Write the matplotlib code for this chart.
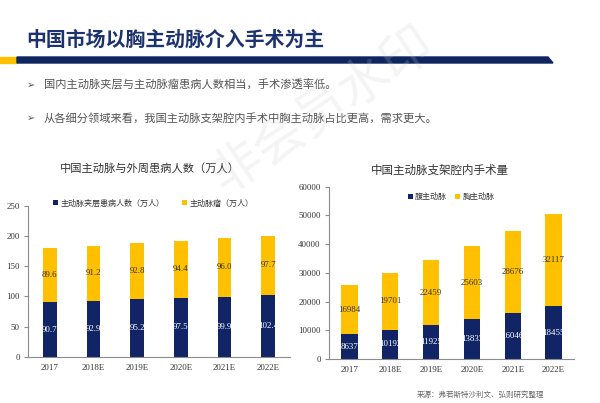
import matplotlib.pyplot as plt
import numpy as np
from matplotlib.patches import Rectangle, Polygon

plt.rcParams['font.family'] = ['Noto Sans CJK SC', 'DejaVu Sans']

# data
years = ['2017', '2018E', '2019E', '2020E', '2021E', '2022E']
dissection = [90.7, 92.9, 95.2, 97.5, 99.9, 102.4]   # 主动脉夹层患病人数（万人）
aneurysm = [89.6, 91.2, 92.8, 94.4, 96.0, 97.7]      # 主动脉瘤（万人）
abdominal = [8637, 10192, 11925, 13833, 16046, 18455]  # 腹主动脉
thoracic = [16984, 19701, 22459, 25603, 28676, 32117]  # 胸主动脉

navy = '#112566'
yellow = '#FFC000'
num_font = 'Liberation Serif'

fig = plt.figure(figsize=(6, 4.03), dpi=100)
W, H = 600, 403


def fx(px):
    return px / W


def fy(py):
    return (H - py) / H


# header
fig.text(fx(26), fy(39.5), '中国市场以胸主动脉介入手术为主', fontsize=14.3,
         fontweight='bold', color='#1c3370', va='center', ha='left')
fig.patches.append(Rectangle((0, fy(63)), fx(17), fy(57) - fy(63),
                             transform=fig.transFigure, color=yellow))
fig.patches.append(Polygon([(fx(17), fy(57)), (fx(548), fy(57)),
                            (fx(553), fy(63)), (fx(17), fy(63))],
                           closed=True, transform=fig.transFigure, color='#0e2660'))

bullets = ['国内主动脉夹层与主动脉瘤患病人数相当，手术渗透率低。',
           '从各细分领域来看，我国主动脉支架腔内手术中胸主动脉占比更高，需求更大。']
for i, b in enumerate(bullets):
    y = [84.5, 118][i]
    fig.text(fx(27), fy(y), '➢', fontsize=7, color='#555555', va='center',
             family='DejaVu Sans')
    fig.text(fx(44), fy(y), b, fontsize=8.1, color='#555555', va='center')

# watermark
fig.text(fx(322), fy(110), '非会员水印', fontsize=37, color='#c8c8c8', alpha=0.2,
         rotation=34, ha='center', va='center', zorder=10)


def style_axes(ax, ymax, step):
    ax.set_xlim(-0.5, 5.5)
    ax.set_ylim(0, ymax)
    ax.set_yticks(np.arange(0, ymax + 1, step))
    for s in ['top', 'right']:
        ax.spines[s].set_visible(False)
    for s in ['left', 'bottom']:
        ax.spines[s].set_color('#8c8c8c')
        ax.spines[s].set_linewidth(0.8)
    ax.tick_params(axis='y', length=3, color='#8c8c8c', labelsize=6.4, pad=3)
    ax.tick_params(axis='x', length=0, labelsize=6.4, pad=5)
    for lab in ax.get_xticklabels() + ax.get_yticklabels():
        lab.set_family(num_font)
        lab.set_color('#333333')
    ax.set_facecolor('none')


x = np.arange(len(years))

# left chart
ax1 = fig.add_axes([fx(28), fy(357), fx(290) - fx(28), fy(205.7) - fy(357)])
b1 = ax1.bar(x, dissection, width=0.32, color=navy, label='主动脉夹层患病人数（万人）')
b2 = ax1.bar(x, aneurysm, width=0.32, bottom=dissection, color=yellow, label='主动脉瘤（万人）')
ax1.set_xticks(x, years)
style_axes(ax1, 250, 50)
for i in range(len(years)):
    ax1.text(x[i], dissection[i] / 2, f'{dissection[i]:.1f}', ha='center', va='center',
             color='white', fontsize=6.4, family=num_font)
    ax1.text(x[i], dissection[i] + aneurysm[i] / 2, f'{aneurysm[i]:.1f}', ha='center',
             va='center', color='#333333', fontsize=6.4, family=num_font)
fig.text(fx(150), fy(168), '中国主动脉与外周患病人数（万人）', fontsize=8.1,
         color='#333333', ha='center', va='center')
fig.legend(handles=[b1, b2], loc='center', bbox_to_anchor=(fx(153), fy(203)),
           ncol=2, frameon=False, fontsize=5.8, handlelength=0.6, handleheight=0.6,
           handletextpad=0.3, columnspacing=2.2, labelcolor='#333333')

# right chart
ax2 = fig.add_axes([fx(329), fy(359), fx(574) - fx(329), fy(186.7) - fy(359)])
c1 = ax2.bar(x, abdominal, width=0.4, color=navy, label='腹主动脉')
c2 = ax2.bar(x, thoracic, width=0.4, bottom=abdominal, color=yellow, label='胸主动脉')
ax2.set_xticks(x, years)
style_axes(ax2, 60000, 10000)
for i in range(len(years)):
    ax2.text(x[i], abdominal[i] / 2, str(abdominal[i]), ha='center', va='center',
             color='white', fontsize=6.4, family=num_font)
    ax2.text(x[i], abdominal[i] + thoracic[i] / 2, str(thoracic[i]), ha='center',
             va='center', color='#333333', fontsize=6.4, family=num_font)
fig.text(fx(440), fy(170), '中国主动脉支架腔内手术量', fontsize=8.3,
         color='#333333', ha='center', va='center')
fig.legend(handles=[c1, c2], loc='center', bbox_to_anchor=(fx(451), fy(196.5)),
           ncol=2, frameon=False, fontsize=5.8, handlelength=0.6, handleheight=0.6,
           handletextpad=0.3, columnspacing=1.0, labelcolor='#333333')

fig.text(fx(417), fy(395), '来源：弗若斯特沙利文、弘则研究整理', fontsize=5.4,
         color='#666666', ha='left', va='center')

fig.savefig('out.png', dpi=100)
